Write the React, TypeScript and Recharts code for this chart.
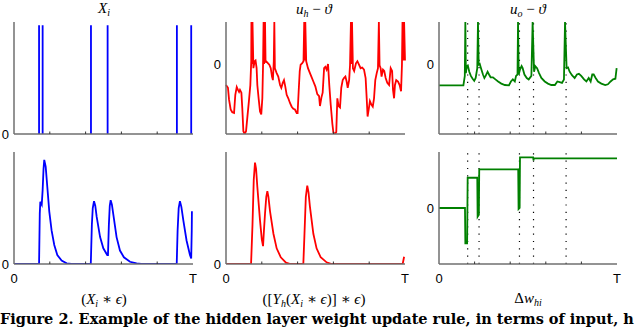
import React from 'react'
import { LineChart, Line, XAxis, YAxis, ReferenceLine } from 'recharts'

type Pt = [number, number]

// time axis runs 0..T, T = 100
const xTicks = [0, 20, 40, 60, 80, 100]

// input spike train X_i
const inputSpikes = [14, 16, 43, 52.3, 91, 99]
const spikeHeight = 0.97

// output spike times (dotted markers)
const outputSpikes = [16.1, 22.5, 45.2, 53.1, 71.4]

// u_h - theta (top middle)
const hiddenPotential: Pt[] = [
  [0, -0.3], [1.1, -0.34], [1.7, -0.51], [2.6, -0.65], [3.5, -0.69], [4.5, -0.7], [5.2, -0.44],
  [6.0, -0.33], [6.7, -0.37], [7.3, -0.4], [7.8, -0.37], [8.6, -0.41], [9.1, -0.63], [9.7, -0.96],
  [10.4, -1.0], [11.2, -0.96], [11.9, -0.77], [12.8, -0.53], [13.6, -0.3], [14.1, 0.04],
  [14.2, 0.6], [14.5, 0.0], [14.8, 0.6], [15.3, -0.06], [16.0, 0.04], [16.5, 0.05], [17.1, -0.06],
  [17.5, -0.3], [18.3, -0.51], [19.0, -0.68], [19.7, -0.72], [20.3, -0.49], [20.7, -0.01],
  [21.0, 0.6], [21.3, 0.0], [21.8, 0.6], [22.1, 0.02], [22.4, 0.04], [23.5, 0.01], [24.2, -0.01],
  [25.0, -0.06], [25.7, -0.18], [26.2, -0.23], [26.7, 0.04], [27.0, 0.6], [27.3, -0.06],
  [28.3, -0.13], [29.2, -0.18], [30.2, -0.3], [30.9, -0.34], [31.7, -0.27], [32.4, -0.23],
  [33.1, -0.32], [33.9, -0.44], [34.8, -0.49], [35.8, -0.56], [36.7, -0.61], [37.6, -0.64],
  [38.5, -0.65], [39.5, -0.7], [40.0, -0.7], [40.6, -0.39], [41.2, -0.1], [41.7, -0.01],
  [42.5, 0.01], [43.3, 0.04], [43.7, 0.6], [44.0, 0.05], [44.3, 0.6], [44.8, 0.04], [45.8, -0.06],
  [46.9, -0.13], [47.7, -0.18], [48.8, -0.25], [49.9, -0.32], [51.0, -0.43], [52.0, -0.46],
  [52.5, -0.6], [53.3, -0.48], [54.0, -0.41], [54.8, -0.06], [55.5, -0.04], [56.2, -0.08],
  [57.0, 0.0], [57.7, -0.3], [58.5, -0.58], [59.4, -0.85], [60.0, -0.98], [61.0, -1.0],
  [61.6, -0.97], [62.2, -0.49], [62.9, -0.6], [63.7, -0.62], [64.4, -0.34], [65.2, -0.23],
  [65.9, -0.2], [66.7, -0.18], [67.4, -0.25], [68.0, -0.34], [68.8, -0.23], [69.3, -0.01],
  [69.8, 0.6], [70.1, 0.0], [70.4, 0.6], [70.9, -0.06], [71.6, -0.1], [72.6, 0.01], [73.4, 0.04],
  [74.3, -0.01], [75.2, -0.06], [76.1, -0.05], [77.1, -0.08], [78.0, -0.2], [78.6, -0.49],
  [79.1, -0.75], [79.9, -0.62], [80.4, -0.53], [81.2, -0.58], [82.0, -0.61], [82.7, -0.49],
  [83.4, -0.23], [84.2, -0.13], [84.9, -0.06], [85.4, 0.6], [85.8, -0.02], [86.4, -0.06],
  [86.9, -0.18], [87.7, -0.08], [88.4, -0.1], [89.2, -0.2], [90.1, -0.27], [91.1, -0.3],
  [92.0, -0.06], [92.8, -0.1], [93.3, -0.37], [93.9, -0.49], [94.4, -0.3], [95.1, -0.23],
  [96.1, -0.25], [97.0, -0.3], [97.8, -0.39], [98.3, -0.01], [98.6, 0.6], [99.0, 0.05],
  [99.5, 0.6], [100, 0.05],
]

// u_o - theta (top right)
const outputPotential: Pt[] = [
  [0, -0.305], [13.7, -0.305], [14.5, -0.17], [14.8, 0.6], [15.1, -0.13], [15.6, -0.03],
  [16.2, -0.02], [17.0, -0.11], [17.9, -0.17], [18.9, -0.21], [19.8, -0.24], [20.6, -0.2],
  [21.5, -0.06], [21.9, 0.6], [22.3, -0.01], [22.9, 0.0], [23.6, -0.06], [24.7, -0.15],
  [25.5, -0.2], [26.2, -0.17], [27.3, -0.11], [28.1, -0.15], [29.0, -0.19], [30.3, -0.19],
  [31.7, -0.22], [33.2, -0.25], [35.0, -0.28], [37.0, -0.3], [39.3, -0.305], [40.4, -0.25],
  [41.5, -0.22], [42.6, -0.25], [43.3, -0.17], [44.1, -0.15], [44.4, 0.6], [44.8, -0.15],
  [45.5, -0.08], [46.4, -0.03], [47.0, -0.06], [48.0, -0.15], [49.3, -0.2], [50.4, -0.22],
  [51.9, -0.17], [52.6, 0.6], [53.4, -0.11], [54.1, -0.03], [55.1, -0.06], [56.2, -0.13],
  [57.5, -0.2], [59.4, -0.25], [61.2, -0.28], [63.1, -0.3], [65.1, -0.3], [66.5, -0.25],
  [67.8, -0.26], [69.1, -0.27], [70.2, -0.22], [70.8, 0.6], [71.7, -0.06], [72.5, -0.05],
  [73.4, -0.11], [74.7, -0.16], [76.2, -0.2], [77.5, -0.15], [78.6, -0.14], [79.9, -0.17],
  [81.5, -0.22], [82.8, -0.25], [84.1, -0.2], [85.2, -0.25], [86.1, -0.15], [86.9, -0.15],
  [88.0, -0.2], [89.3, -0.25], [91.2, -0.28], [93.4, -0.3], [94.9, -0.29], [96.4, -0.25],
  [97.8, -0.22], [99.1, -0.21], [99.8, -0.06],
]

// X_i * eps (bottom left)
const inputTrace: Pt[] = [
  [0, 0], [14.0, 0], [14.4, 0.45], [14.7, 0.556], [15.5, 0.53], [16.0, 0.66], [16.5, 0.85],
  [16.9, 0.93], [17.7, 0.87], [18.6, 0.69], [19.7, 0.47], [21.0, 0.3], [22.5, 0.17], [24.2, 0.08],
  [26.6, 0.03], [29.4, 0.006], [32, 0], [42.9, 0], [43.5, 0.35], [44.0, 0.5], [44.7, 0.56],
  [45.4, 0.52], [46.2, 0.42], [48.1, 0.24], [49.9, 0.14], [52.1, 0.08], [52.5, 0.08], [53.0, 0.35],
  [53.5, 0.52], [54.0, 0.57], [54.7, 0.53], [55.5, 0.44], [57.3, 0.24], [59.2, 0.12], [61.4, 0.06],
  [64.8, 0.02], [68.5, 0.005], [71, 0], [90.9, 0], [91.4, 0.3], [92.0, 0.5], [92.7, 0.56],
  [93.5, 0.51], [94.6, 0.39], [96.4, 0.21], [98.3, 0.08], [99.0, 0.05], [99.3, 0.3], [99.4, 0.47],
]

// [Y_h(X_i * eps)] * eps (bottom middle)
const hiddenTrace: Pt[] = [
  [0, 0], [14.0, 0], [14.8, 0.35], [15.5, 0.75], [16.2, 0.905], [16.8, 0.85], [17.5, 0.69],
  [19.0, 0.39], [20.0, 0.22], [20.7, 0.16], [21.2, 0.3], [21.8, 0.45], [22.5, 0.6], [23.1, 0.65],
  [23.7, 0.6], [24.6, 0.47], [26.5, 0.27], [28.3, 0.14], [30.6, 0.06], [33.5, 0.012], [36, 0],
  [43.2, 0], [43.8, 0.25], [44.6, 0.6], [45.4, 0.7], [46.1, 0.64], [46.9, 0.51], [48.8, 0.27],
  [50.6, 0.14], [52.9, 0.06], [56.2, 0.015], [59, 0], [98.7, 0], [99.5, 0.065],
]

// delta w_hi (bottom right)
const weightChange: Pt[] = [
  [0, 0], [14.6, 0], [14.8, -0.63], [15.8, -0.63], [16.1, 0.54], [21.5, 0.54], [21.7, -0.155],
  [22.4, -0.12], [22.6, 0.69], [44.5, 0.69], [44.7, -0.02], [45.3, 0.0], [45.5, 0.905],
  [52.9, 0.905], [53.1, 0.85], [53.3, 0.886], [100, 0.886],
]

const AXIS = '#6f6f6f'
const BLUE = '#0000ff'
const RED = '#ff0000'
const GREEN = '#008000'
const SANS = '"Liberation Sans", Arial, sans-serif'
const SERIF = '"Liberation Serif", "DejaVu Serif", serif'

const PAD_L = 22
const PAD_R = 6
const PAD_T = 6
const PAD_B = 26

const toRows = (pts: Pt[]) => pts.map(([t, v]) => ({ t, v }))

const spikeRows = (times: number[]) =>
  times.flatMap((t) => [
    { t, v: 0 },
    { t, v: spikeHeight },
    { t, v: null },
  ])

function XTick(props: any) {
  const { x, y, payload, labels } = props
  const v = payload.value
  const inner = v > 0 && v < 100
  return (
    <g>
      {inner && <line x1={x} x2={x} y1={y} y2={y - 2.5} stroke="#333" strokeWidth={1} />}
      {labels && !inner && (
        <text x={x} y={y + 19} textAnchor="middle" fontSize={13} fill="#000" fontFamily={SANS}>
          {v === 0 ? '0' : 'T'}
        </text>
      )}
    </g>
  )
}

function YTick(props: any) {
  const { x, y } = props
  return (
    <text x={x - 5} y={y + 4.5} textAnchor="end" fontSize={13} fill="#000" fontFamily={SANS}>
      0
    </text>
  )
}

type PanelProps = {
  left: number
  top: number
  pw: number
  rows: any[]
  color: string
  yDomain: [number, number]
  xLabels?: boolean
  marks?: number[]
}

function Panel({ left, top, pw, rows, color, yDomain, xLabels, marks }: PanelProps) {
  const ph = 112
  return (
    <div style={{ position: 'absolute', left: left - PAD_L, top: top - PAD_T }}>
      <LineChart
        width={pw + PAD_L + PAD_R}
        height={ph + PAD_T + PAD_B}
        data={rows}
        margin={{ top: PAD_T, right: PAD_R, left: 0, bottom: 0 }}
      >
        <XAxis
          dataKey="t"
          type="number"
          domain={[0, 100]}
          ticks={xTicks}
          interval={0}
          height={PAD_B}
          tickSize={0}
          tickMargin={0}
          tickLine={false}
          axisLine={{ stroke: AXIS, strokeWidth: 1.5 }}
          tick={(p: any) => <XTick {...p} labels={xLabels} />}
        />
        <YAxis
          type="number"
          domain={yDomain}
          allowDataOverflow
          ticks={[0]}
          width={PAD_L}
          tickSize={0}
          tickMargin={0}
          tickLine={false}
          axisLine={{ stroke: AXIS, strokeWidth: 1.5 }}
          tick={(p: any) => <YTick {...p} />}
        />
        {(marks || []).map((m) => (
          <ReferenceLine
            key={m}
            x={m}
            stroke="#000"
            strokeWidth={1.2}
            strokeDasharray="1.2 6.1"
          />
        ))}
        <Line
          type="linear"
          dataKey="v"
          stroke={color}
          strokeWidth={1.8}
          dot={false}
          activeDot={false}
          connectNulls={false}
          isAnimationActive={false}
        />
      </LineChart>
    </div>
  )
}

function Text({ cx, top, children, size = 15 }: any) {
  return (
    <div
      style={{
        position: 'absolute',
        left: cx - 120,
        width: 240,
        top,
        textAlign: 'center',
        fontFamily: SERIF,
        fontSize: size,
        lineHeight: '16px',
        whiteSpace: 'nowrap',
        color: '#000',
      }}
    >
      {children}
    </div>
  )
}

const subStyle: React.CSSProperties = { fontSize: 10, verticalAlign: -3, fontStyle: 'italic' }

export default function App() {
  return (
    <div
      style={{
        position: 'absolute',
        left: 0,
        top: 0,
        width: 640,
        height: 328,
        background: '#fff',
        overflow: 'hidden',
      }}
    >
      <Panel left={14} top={22} pw={179} rows={spikeRows(inputSpikes)} color={BLUE} yDomain={[0, 1]} />
      <Panel left={226} top={22} pw={179} rows={toRows(hiddenPotential)} color={RED} yDomain={[-1, 0.6]} />
      <Panel
        left={439}
        top={22}
        pw={178}
        rows={toRows(outputPotential)}
        color={GREEN}
        yDomain={[-1, 0.6]}
        marks={outputSpikes}
      />
      <Panel left={14} top={152} pw={179} rows={toRows(inputTrace)} color={BLUE} yDomain={[0, 1]} xLabels />
      <Panel left={226} top={152} pw={179} rows={toRows(hiddenTrace)} color={RED} yDomain={[0, 1]} xLabels />
      <Panel
        left={439}
        top={152}
        pw={178}
        rows={toRows(weightChange)}
        color={GREEN}
        yDomain={[-1, 1]}
        xLabels
        marks={outputSpikes}
      />

      <Text cx={104} top={0}>
        <i>X</i>
        <span style={subStyle}>i</span>
      </Text>
      <Text cx={314} top={1}>
        <i>u</i>
        <span style={subStyle}>h</span> − <i>ϑ</i>
      </Text>
      <Text cx={528} top={1}>
        <i>u</i>
        <span style={subStyle}>o</span> − <i>ϑ</i>
      </Text>

      <Text cx={104} top={291}>
        (<i>X</i>
        <span style={subStyle}>i</span> ∗ <i>ϵ</i>)
      </Text>
      <Text cx={314} top={291}>
        ([<i>Y</i>
        <span style={subStyle}>h</span>(<i>X</i>
        <span style={subStyle}>i</span> ∗ <i>ϵ</i>)] ∗ <i>ϵ</i>)
      </Text>
      <Text cx={528} top={290}>
        Δ<i>w</i>
        <span style={subStyle}>hi</span>
      </Text>

      <div
        style={{
          position: 'absolute',
          left: 0,
          top: 311,
          fontFamily: '"DejaVu Serif", serif',
          fontWeight: 'bold',
          fontSize: 14.5,
          lineHeight: '16px',
          whiteSpace: 'nowrap',
          color: '#000',
        }}
      >
        Figure 2. Example of the hidden layer weight update rule, in terms of input, h
      </div>
    </div>
  )
}
